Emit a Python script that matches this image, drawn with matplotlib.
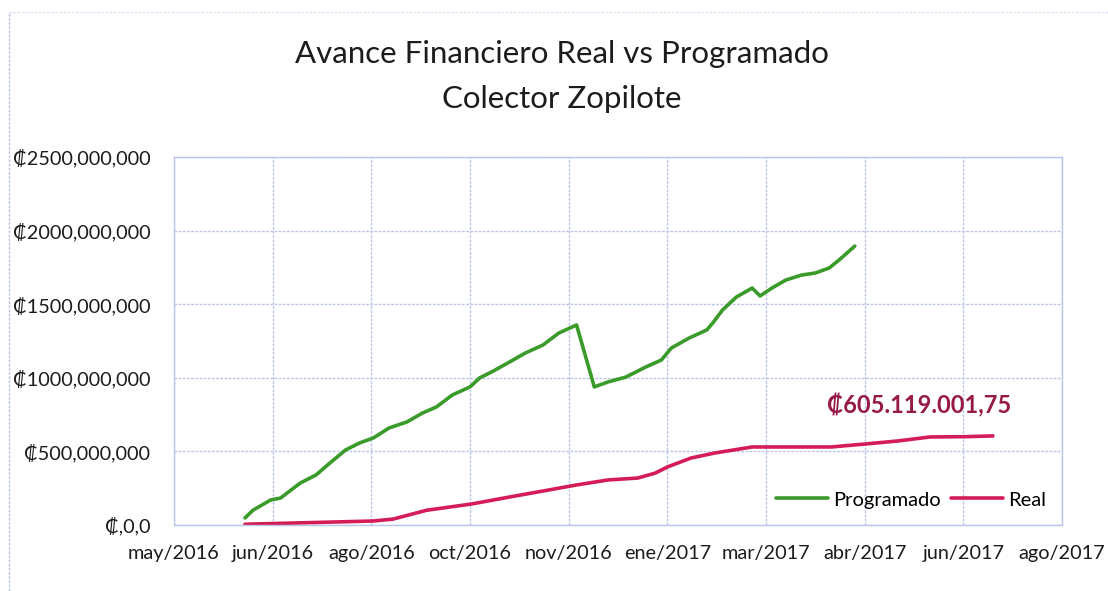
import numpy as np
import pandas as pd
import matplotlib
matplotlib.use("Agg")
import matplotlib.pyplot as plt
import matplotlib.dates as mdates

plt.rcParams["font.family"] = ["Lato", "DejaVu Sans"]

# Programado (cumulative, colones)
prog_dates = [
    "2016-06-15", "2016-06-19", "2016-06-28", "2016-07-03", "2016-07-13", "2016-07-21",
    "2016-07-28", "2016-08-05", "2016-08-12", "2016-08-19", "2016-08-27", "2016-09-05",
    "2016-09-13", "2016-09-20", "2016-09-28", "2016-10-07", "2016-10-12", "2016-10-18",
    "2016-10-27", "2016-11-04", "2016-11-13", "2016-11-21", "2016-11-30", "2016-12-09",
    "2016-12-16", "2016-12-25", "2017-01-04", "2017-01-12", "2017-01-17", "2017-01-26",
    "2017-02-04", "2017-02-07", "2017-02-12", "2017-02-19", "2017-02-27", "2017-03-03",
    "2017-03-09", "2017-03-16", "2017-03-24", "2017-03-31", "2017-04-07", "2017-04-12",
    "2017-04-20",
]
prog_values = [
    48e6, 100e6, 170e6, 183e6, 285e6, 340e6,
    421e6, 510e6, 557e6, 591e6, 659e6, 700e6,
    761e6, 802e6, 883e6, 938e6, 1000e6, 1040e6,
    1107e6, 1168e6, 1223e6, 1304e6, 1359e6, 938e6,
    972e6, 1005e6, 1073e6, 1121e6, 1202e6, 1270e6,
    1325e6, 1372e6, 1461e6, 1549e6, 1610e6, 1556e6,
    1610e6, 1664e6, 1698e6, 1712e6, 1746e6, 1800e6,
    1895e6,
]

# Real (cumulative, colones)
real_dates = [
    "2016-06-15", "2016-08-19", "2016-08-29", "2016-09-15", "2016-10-08", "2016-10-27",
    "2016-11-16", "2016-11-30", "2016-12-16", "2016-12-31", "2017-01-09", "2017-01-15",
    "2017-01-27", "2017-02-08", "2017-02-27", "2017-03-07", "2017-04-08", "2017-04-25",
    "2017-05-12", "2017-05-28", "2017-06-15", "2017-06-29",
]
real_values = [
    5e6, 27e6, 40e6, 100e6, 143e6, 190e6,
    238e6, 272e6, 306e6, 319e6, 353e6, 394e6,
    455e6, 489e6, 530e6, 530e6, 530e6, 550e6,
    571e6, 598e6, 600e6, 605119001.75,
]
final_label = "₡605.119.001,75"

x_start = "2016-05-10"
x_labels = ["may/2016", "jun/2016", "ago/2016", "oct/2016", "nov/2016",
            "ene/2017", "mar/2017", "abr/2017", "jun/2017", "ago/2017"]
y_ticks = [0, 500e6, 1000e6, 1500e6, 2000e6, 2500e6]
y_labels = ["₡,0,0", "₡500,000,000", "₡1000,000,000", "₡1500,000,000",
            "₡2000,000,000", "₡2500,000,000"]

green = "#3a9a2a"
red = "#d41c58"
grid_col = "#bcc6e6"
text_col = "#1c1c1c"

fig = plt.figure(figsize=(11.08, 5.91), dpi=100)
ax = fig.add_axes([0.157, 0.1117, 0.8015, 0.6226])

pd_prog = pd.to_datetime(prog_dates)
pd_real = pd.to_datetime(real_dates)
ax.plot(pd_prog, prog_values, color=green, lw=2.6, label="Programado", solid_capstyle="round")
ax.plot(pd_real, real_values, color=red, lw=2.6, label="Real", solid_capstyle="round")

xticks = pd.date_range(x_start, periods=len(x_labels), freq="50D")
ax.set_xticks(xticks)
ax.set_xticklabels(x_labels)
ax.set_xlim(xticks[0], xticks[-1])
ax.set_yticks(y_ticks)
ax.set_yticklabels(y_labels)
ax.set_ylim(0, 2500e6)

ax.grid(True, color=grid_col, lw=1.0, ls=(0, (2, 1)))
ax.set_axisbelow(True)
for s in ax.spines.values():
    s.set_color(grid_col)
    s.set_linewidth(1.0)
ax.tick_params(length=0, labelsize=14.3, colors=text_col)
ax.tick_params(axis="y", pad=17)
ax.tick_params(axis="x", pad=14.5)

ax.annotate(final_label, (pd_real[-1], real_values[-1]), xytext=(-53, 13),
            textcoords="offset points", ha="center", va="bottom",
            fontsize=17, fontweight="bold", color="#961a48")

ax.legend(loc="center", bbox_to_anchor=(0.83, 0.068), ncol=2, frameon=False,
          fontsize=14.5, handlelength=2.6, handletextpad=0.25, columnspacing=0.5)

fig.text(0.507, 0.909, "Avance Financiero Real vs Programado", ha="center", va="center",
         fontsize=22.5, color=text_col)
fig.text(0.507, 0.832, "Colector Zopilote", ha="center", va="center",
         fontsize=22.5, color=text_col)

# faint chart-area border (left and top)
fig.add_artist(plt.Line2D([0.008, 0.008], [0.0, 0.98], color=grid_col, lw=1, ls=(0, (2, 1))))
fig.add_artist(plt.Line2D([0.008, 1.0], [0.98, 0.98], color="#dde3f3", lw=1, ls=(0, (2, 1))))

fig.savefig("out.png", dpi=100)
